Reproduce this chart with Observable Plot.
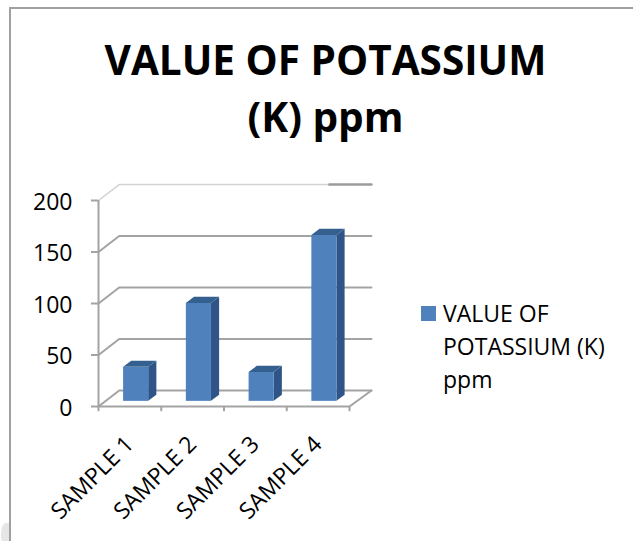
<!DOCTYPE html>
<html><head><meta charset="utf-8">
<script src="https://cdn.jsdelivr.net/npm/d3@7"></script>
<script src="https://cdn.jsdelivr.net/npm/@observablehq/plot@0.6"></script>
<style>
html,body{margin:0;padding:0;background:#fff;}
#wrap{position:relative;width:633px;height:541px;overflow:hidden;font-family:"Open Sans",sans-serif;color:#000;}
#frame{position:absolute;left:9px;top:7px;width:640px;height:560px;border:2px solid #a0a0a0;box-sizing:border-box;}
#blob{position:absolute;left:1px;top:523px;width:9px;height:24px;border-radius:60% 0 0 60%;background:#e6e6e6;}
#title{position:relative;height:170px;box-sizing:border-box;padding-top:31px;text-align:center;font-weight:700;font-size:40.5px;line-height:57px;padding-left:18px;}
#legend{position:absolute;left:443px;top:297px;font-size:23px;line-height:33px;white-space:nowrap;}
#legend i{position:absolute;left:-22px;top:9px;width:15px;height:15px;background:#4F81BD;}
svg{display:block;position:relative;background:transparent;}
</style></head><body>
<div id="wrap"><div id="blob"></div><div id="frame"></div>
<div id="title">VALUE OF POTASSIUM<br>(K) ppm</div>
<div id="legend"><i></i>VALUE OF<br>POTASSIUM (K)<br>ppm</div>
<div id="chart"></div></div>
<script>
const categories = ["SAMPLE 1","SAMPLE 2","SAMPLE 3","SAMPLE 4"];
const values = [33, 95, 28, 161];
const yTicks = [0,50,100,150,200];
const xEdges = [0,1,2,3,4];
// projection of the fake-3D depth, in data units
const wallDX = 0.33, wallDY = 15.5, wallEnd = 4.35;
const barInset = 0.4, barWidth = 0.4, barBase = 5;
const sideDX = 0.13, sideDY = 6;
const topBreak = 3.68;
const rows = categories.map((c,i)=>({c,v:values[i],x0:i+barInset,x1:i+barInset+barWidth}));
const grid = yTicks.slice(0,-1).flatMap(t=>[
  {t,x:0,y:t},{t,x:wallDX,y:t+wallDY},{t,x:wallEnd,y:t+wallDY}
]);
const topMax = yTicks[yTicks.length-1];
const topLight = [{x:0,y:topMax},{x:wallDX,y:topMax+wallDY},{x:topBreak,y:topMax+wallDY}];
const topDark = [{x:topBreak,y:topMax+wallDY},{x:wallEnd,y:topMax+wallDY}];
const floor = [{x:0,y:0},{x:4,y:0},{x:wallEnd,y:wallDY}];
const quadTop = rows.flatMap(r=>[
  {k:r.c,x:r.x0,y1:r.v+barBase,y2:r.v+barBase},
  {k:r.c,x:r.x0+sideDX,y1:r.v+barBase,y2:r.v+barBase+sideDY},
  {k:r.c,x:r.x1,y1:r.v+barBase,y2:r.v+barBase+sideDY},
  {k:r.c,x:r.x1+sideDX,y1:r.v+barBase+sideDY,y2:r.v+barBase+sideDY}
]);
const quadSide = rows.flatMap(r=>[
  {k:r.c,x:r.x1,y1:barBase,y2:r.v+barBase},
  {k:r.c,x:r.x1+sideDX,y1:barBase+sideDY,y2:r.v+barBase+sideDY}
]);
const plot = Plot.plot({
  width:633,height:371,margin:0,
  style:{background:"transparent",fontFamily:'"Open Sans",sans-serif',overflow:"visible"},
  x:{type:"linear",domain:[0,4],range:[98,349],axis:null},
  y:{type:"linear",domain:[0,200],range:[236,30]},
  marks:[
    Plot.line(grid,{x:"x",y:"y",z:"t",stroke:"#a3a3a3",strokeWidth:2}),
    Plot.line(topLight,{x:"x",y:"y",stroke:"#d2d2d2",strokeWidth:1.5}),
    Plot.line(topDark,{x:"x",y:"y",stroke:"#9c9c9c",strokeWidth:2.5}),
    Plot.line(floor,{x:"x",y:"y",stroke:"#a3a3a3",strokeWidth:2}),
    Plot.ruleX([0],{y1:0,y2:200,stroke:"#a3a3a3",strokeWidth:2}),
    Plot.area(quadSide,{x1:"x",y1:"y1",y2:"y2",z:"k",fill:"#2F5588"}),
    Plot.area(quadTop,{x1:"x",y1:"y1",y2:"y2",z:"k",fill:"#34608F"}),
    Plot.rect(rows,{x1:"x0",x2:"x1",y1:barBase,y2:d=>d.v+barBase,fill:"#4F81BD"}),
    Plot.axisY({ticks:yTicks,x:0,tickSize:7,stroke:"#a3a3a3",strokeWidth:2,text:null,label:null}),
    Plot.axisY({ticks:yTicks,x:0,tickSize:0,tickPadding:26,dy:2,fontSize:23,color:"#000",label:null,tickFormat:d=>d}),
    Plot.ruleX(xEdges,{x:d=>d,y1:0,y2:-5,stroke:"#a3a3a3",strokeWidth:2}),
    Plot.text(rows,{x:d=>(d.x0+d.x1)/2-0.1,y:0,text:"c",rotate:-45,textAnchor:"end",lineAnchor:"middle",fontSize:23,fill:"#000",dy:34})
  ]
});
document.getElementById("chart").appendChild(plot);
</script></body></html>
